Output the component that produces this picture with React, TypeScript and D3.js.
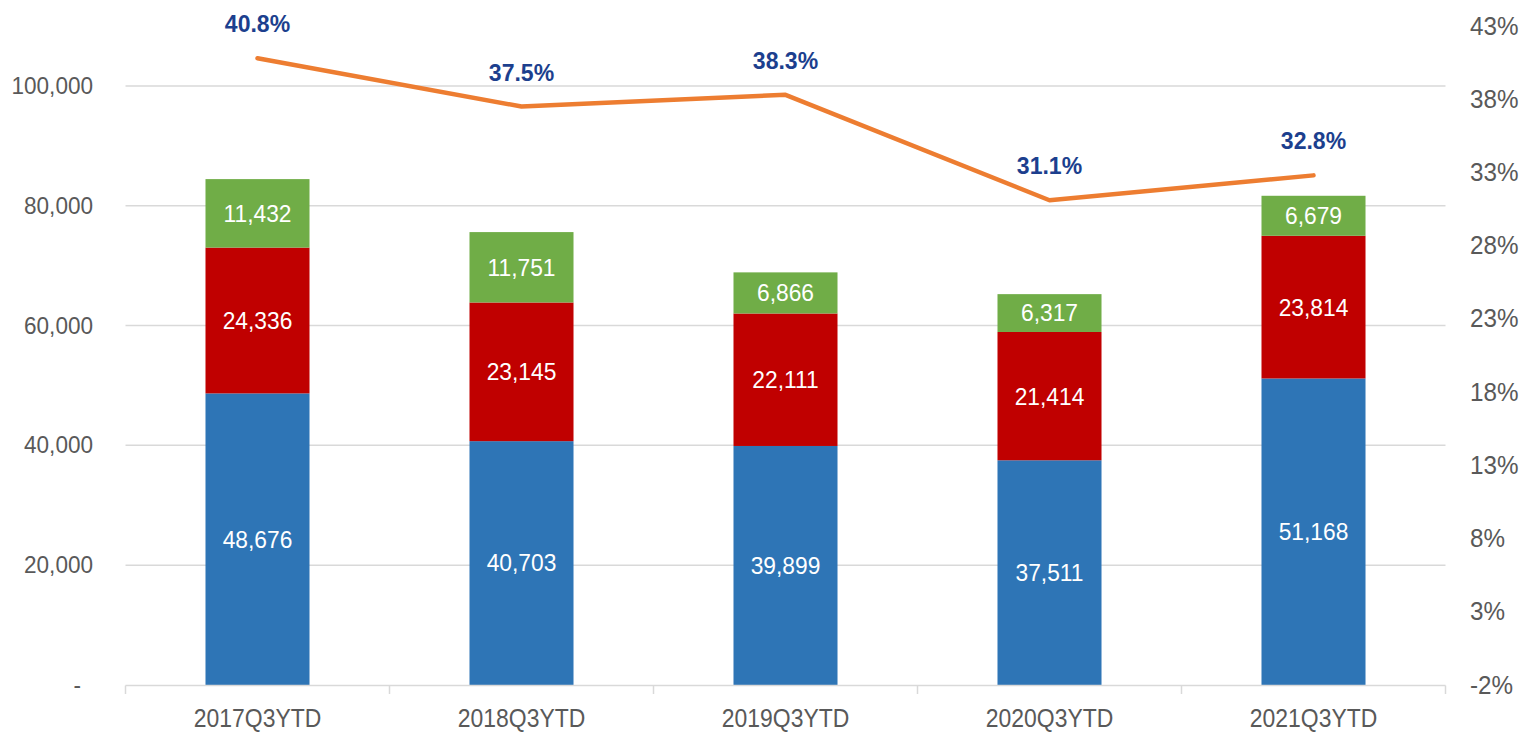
import React from "react";
import * as d3 from "d3";

const categories = ["2017Q3YTD", "2018Q3YTD", "2019Q3YTD", "2020Q3YTD", "2021Q3YTD"];
const blueValues = [48676, 40703, 39899, 37511, 51168];
const redValues = [24336, 23145, 22111, 21414, 23814];
const greenValues = [11432, 11751, 6866, 6317, 6679];
const pctValues = [40.8, 37.5, 38.3, 31.1, 32.8];
const leftTicks = [0, 20000, 40000, 60000, 80000, 100000];
const rightTicks = [-2, 3, 8, 13, 18, 23, 28, 33, 38, 43];

const W = 1525;
const H = 732;
const FONT = "'Liberation Sans', Arial, sans-serif";
const AXIS_COLOR = "#595959";
const GRID = "#D9D9D9";

function Txt(props: {
  x: number; y: number; text: string; size: number; sx: number;
  anchor?: string; fill?: string; weight?: string | number;
}) {
  const { x, y, text, size, sx, anchor = "middle", fill = AXIS_COLOR, weight = "normal" } = props;
  return (
    <g transform={`translate(${x},${y}) scale(${sx},1)`}>
      <text x={0} y={0} textAnchor={anchor} fontSize={size} fontFamily={FONT} fill={fill} fontWeight={weight}>
        {text}
      </text>
    </g>
  );
}

export default function App() {
  const x = d3.scaleBand<string>().domain(categories).range([125.5, 1445.5]).padding(0);
  const yL = d3.scaleLinear().domain([0, 110000]).range([685, 26]);
  const yR = d3.scaleLinear().domain([-2, 43]).range([685, 26]);
  const barW = x.bandwidth() * 0.394;
  const fmt = d3.format(",");

  const series = [
    { name: "blue", values: blueValues, color: "#2E75B6" },
    { name: "red", values: redValues, color: "#C00000" },
    { name: "green", values: greenValues, color: "#70AD47" },
  ];

  const stacks = categories.map((c, i) => {
    let base = 0;
    return series.map((s) => {
      const v = s.values[i];
      const seg = { c, v, y0: base, y1: base + v, color: s.color };
      base += v;
      return seg;
    });
  });

  const line = d3
    .line<number>()
    .x((_, i) => (x(categories[i]) as number) + x.bandwidth() / 2)
    .y((d) => yR(d));

  const boundaries = d3.range(categories.length + 1).map((i) => 125.5 + i * x.step());

  return (
    <svg width={W} height={H} style={{ position: "absolute", left: 0, top: 0, background: "#fff" }}>
      {/* gridlines */}
      {leftTicks.filter((t) => t > 0).map((t) => (
        <line key={t} x1={125.5} x2={1445.5} y1={yL(t)} y2={yL(t)} stroke={GRID} strokeWidth={1.5} />
      ))}
      {/* bars */}
      {stacks.map((segs, i) =>
        segs.map((s, j) => (
          <rect
            key={`${i}-${j}`}
            x={(x(s.c) as number) + x.bandwidth() / 2 - barW / 2}
            y={yL(s.y1)}
            width={barW}
            height={yL(s.y0) - yL(s.y1)}
            fill={s.color}
          />
        ))
      )}
      {/* x axis */}
      <line x1={125.5} x2={1445.5} y1={685.5} y2={685.5} stroke={GRID} strokeWidth={1.5} />
      {boundaries.map((b, i) => (
        <line key={i} x1={b} x2={b} y1={685.5} y2={694} stroke={GRID} strokeWidth={1.5} />
      ))}
      {/* data labels */}
      {stacks.map((segs, i) =>
        segs.map((s, j) => (
          <Txt
            key={`l${i}-${j}`}
            x={(x(s.c) as number) + x.bandwidth() / 2}
            y={(yL(s.y0) + yL(s.y1)) / 2 + 8.4}
            text={fmt(s.v)}
            size={23.5}
            sx={0.97}
            fill="#FFFFFF"
          />
        ))
      )}
      {/* line */}
      <path d={line(pctValues) || ""} fill="none" stroke="#ED7D31" strokeWidth={4.5} strokeLinecap="round" strokeLinejoin="round" />
      {pctValues.map((p, i) => (
        <Txt
          key={`p${i}`}
          x={(x(categories[i]) as number) + x.bandwidth() / 2}
          y={yR(p) - 26}
          text={`${p.toFixed(1)}%`}
          size={24.5}
          sx={0.94}
          fill="#1C3F8E"
          weight="bold"
        />
      ))}
      {/* left axis labels */}
      {leftTicks.map((t) => (
        <Txt
          key={`yl${t}`}
          x={t === 0 ? 81 : 93}
          y={yL(t) + 8}
          text={t === 0 ? "-" : fmt(t)}
          size={23.5}
          sx={0.96}
          anchor="end"
        />
      ))}
      {/* right axis labels */}
      {rightTicks.map((t) => (
        <Txt key={`yr${t}`} x={1470} y={yR(t) + 8.5} text={`${t}%`} size={25} sx={0.97} anchor="start" />
      ))}
      {/* category labels */}
      {categories.map((c) => (
        <Txt key={c} x={(x(c) as number) + x.bandwidth() / 2} y={726.5} text={c} size={25.5} sx={0.9} />
      ))}
    </svg>
  );
}
